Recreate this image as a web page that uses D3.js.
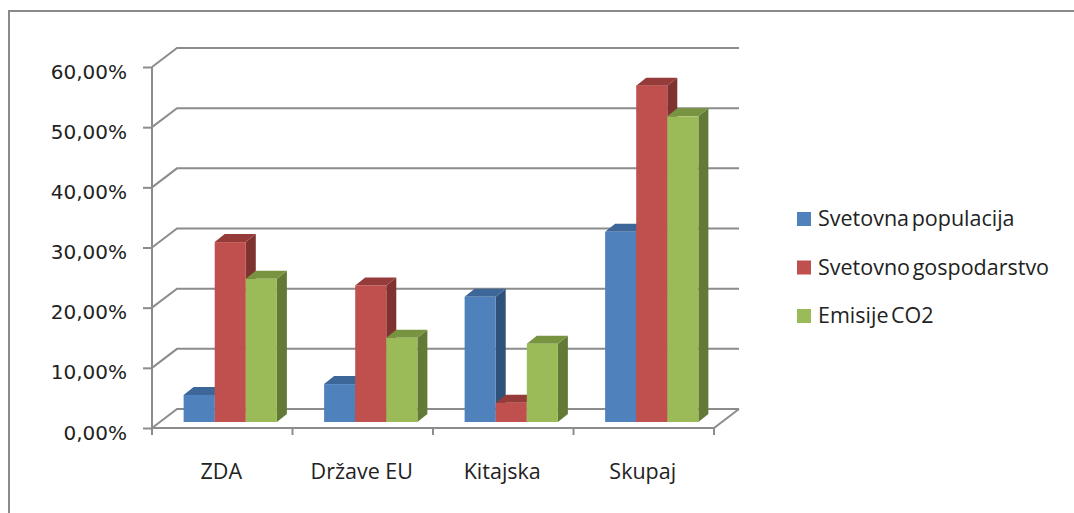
<!DOCTYPE html>
<html>
<head>
<meta charset="utf-8">
<script src="https://cdn.jsdelivr.net/npm/d3@7"></script>
<style>
  body { margin: 0; background: #fff; }
</style>
</head>
<body>
<div id="chart-area"></div>
<script>
// data (percent)
var categories = ["ZDA", "Države EU", "Kitajska", "Skupaj"];
var seriesNames = ["Svetovna populacija", "Svetovno gospodarstvo", "Emisije CO2"];
var populacija = [4.5, 6.3, 20.8, 31.6];
var gospodarstvo = [29.9, 22.7, 3.2, 55.9];
var emisije = [23.8, 14.0, 13.0, 50.8];
var yTicks = [0, 10, 20, 30, 40, 50, 60];

var seriesValues = [populacija, gospodarstvo, emisije];
var colors = ["#4f81bd", "#c0504d", "#9bbb59"];
var topColors = ["#3d6699", "#953b39", "#789441"];
var sideColors = ["#30527a", "#7e3331", "#637a37"];

var width = 1074, height = 513;
var gridColor = "#8c8c8c";

// wall depth and bar depth
var depth = {dx: 25, dy: -19};
var barOff = {dx: 8, dy: -6};
var barDepth = {dx: 10, dy: -8};

var svg = d3.select("#chart-area")
  .append("svg")
    .attr("width", width)
    .attr("height", height);

// outer frame (cut at the right and bottom)
svg.append("path")
  .attr("d", "M9," + height + " L9,11 L" + width + ",11")
  .attr("fill", "none")
  .attr("stroke", "#8a8a8a")
  .attr("stroke-width", 2);

var y = d3.scaleLinear()
  .domain([0, 60])
  .range([428, 67]);

var x = d3.scaleBand()
  .domain(categories)
  .range([152, 714]);

var xs = d3.scaleBand()
  .domain(seriesNames)
  .range([0, x.bandwidth()])
  .paddingOuter(0.76);

var x0 = x.range()[0], x1 = x.range()[1];

// walls: gridlines on side and back wall
var grid = svg.append("g")
  .attr("fill", "none")
  .attr("stroke", gridColor)
  .attr("stroke-width", 2);

yTicks.forEach(function(t) {
  grid.append("path")
    .attr("d", "M" + x0 + "," + y(t) +
      " L" + (x0 + depth.dx) + "," + (y(t) + depth.dy) +
      " L" + (x1 + depth.dx) + "," + (y(t) + depth.dy));
});

// floor front edge and right edge
grid.append("path")
  .attr("d", "M" + x0 + "," + y(0) + " L" + x1 + "," + y(0) +
    " L" + (x1 + depth.dx) + "," + (y(0) + depth.dy));

// y axis
var yAxisCall = d3.axisLeft(y)
  .tickValues(yTicks)
  .tickSize(9)
  .tickPadding(16)
  .tickFormat(function(d) { return d3.format(".2f")(d).replace(".", ",") + "%"; });

var yAxis = svg.append("g")
  .attr("transform", "translate(" + x0 + ",0)")
  .call(yAxisCall);
yAxis.select(".domain").attr("stroke", gridColor).attr("stroke-width", 2)
  .attr("d", "M0," + y(60) + "V" + y(0));
yAxis.selectAll(".tick line").attr("stroke", gridColor).attr("stroke-width", 2);
yAxis.selectAll(".tick text")
  .attr("dy", "0.55em")
  .attr("fill", "#222")
  .attr("font-family", "DejaVu Sans")
  .attr("font-size", "20px");

// category ticks under the floor
var catTicks = categories.map(function(c) { return x(c); }).concat([x1]);
svg.append("g").selectAll("line")
  .data(catTicks)
  .enter()
  .append("line")
    .attr("x1", function(d) { return d; })
    .attr("x2", function(d) { return d; })
    .attr("y1", y(0))
    .attr("y2", y(0) + 7)
    .attr("stroke", gridColor)
    .attr("stroke-width", 2);

// category labels
svg.append("g").selectAll("text")
  .data(categories)
  .enter()
  .append("text")
    .attr("x", function(d) { return x(d) + x.bandwidth() / 2 - 1; })
    .attr("y", 479)
    .attr("text-anchor", "middle")
    .attr("font-family", "Open Sans")
    .attr("font-size", "21.5px")
    .attr("fill", "#222")
    .text(function(d) { return d; });

// 3d bars
var bars = [];
categories.forEach(function(c, ci) {
  seriesNames.forEach(function(s, si) {
    bars.push({cat: c, series: s, si: si, value: seriesValues[si][ci]});
  });
});

var bw = xs.bandwidth();
var barG = svg.append("g");

bars.forEach(function(d) {
  var bx = x(d.cat) + xs(d.series) + barOff.dx;
  var yb = y(0) + barOff.dy;
  var yt = y(d.value) + barOff.dy;
  var g = barG.append("g");

  // side
  g.append("path")
    .attr("d", "M" + (bx + bw) + "," + yt +
      " L" + (bx + bw + barDepth.dx) + "," + (yt + barDepth.dy) +
      " L" + (bx + bw + barDepth.dx) + "," + (yb + barDepth.dy) +
      " L" + (bx + bw) + "," + yb + "Z")
    .attr("fill", sideColors[d.si]);
  // top
  g.append("path")
    .attr("d", "M" + bx + "," + yt +
      " L" + (bx + bw) + "," + yt +
      " L" + (bx + bw + barDepth.dx) + "," + (yt + barDepth.dy) +
      " L" + (bx + barDepth.dx) + "," + (yt + barDepth.dy) + "Z")
    .attr("fill", topColors[d.si]);
  // front
  g.append("rect")
    .attr("x", bx)
    .attr("y", yt)
    .attr("width", bw)
    .attr("height", yb - yt)
    .attr("fill", colors[d.si]);
});

// legend
var legend = svg.append("g").selectAll("g")
  .data(seriesNames)
  .enter()
  .append("g")
    .attr("transform", function(d, i) { return "translate(797," + (212 + i * 48.5) + ")"; });

legend.append("rect")
  .attr("width", 14)
  .attr("height", 14)
  .attr("fill", function(d, i) { return colors[i]; });

legend.append("text")
  .attr("x", 21)
  .attr("y", 14)
  .attr("font-family", "Open Sans")
  .attr("font-size", "21.5px")
  .attr("word-spacing", "-3px")
  .attr("fill", "#222")
  .text(function(d) { return d; });
</script>
</body>
</html>
